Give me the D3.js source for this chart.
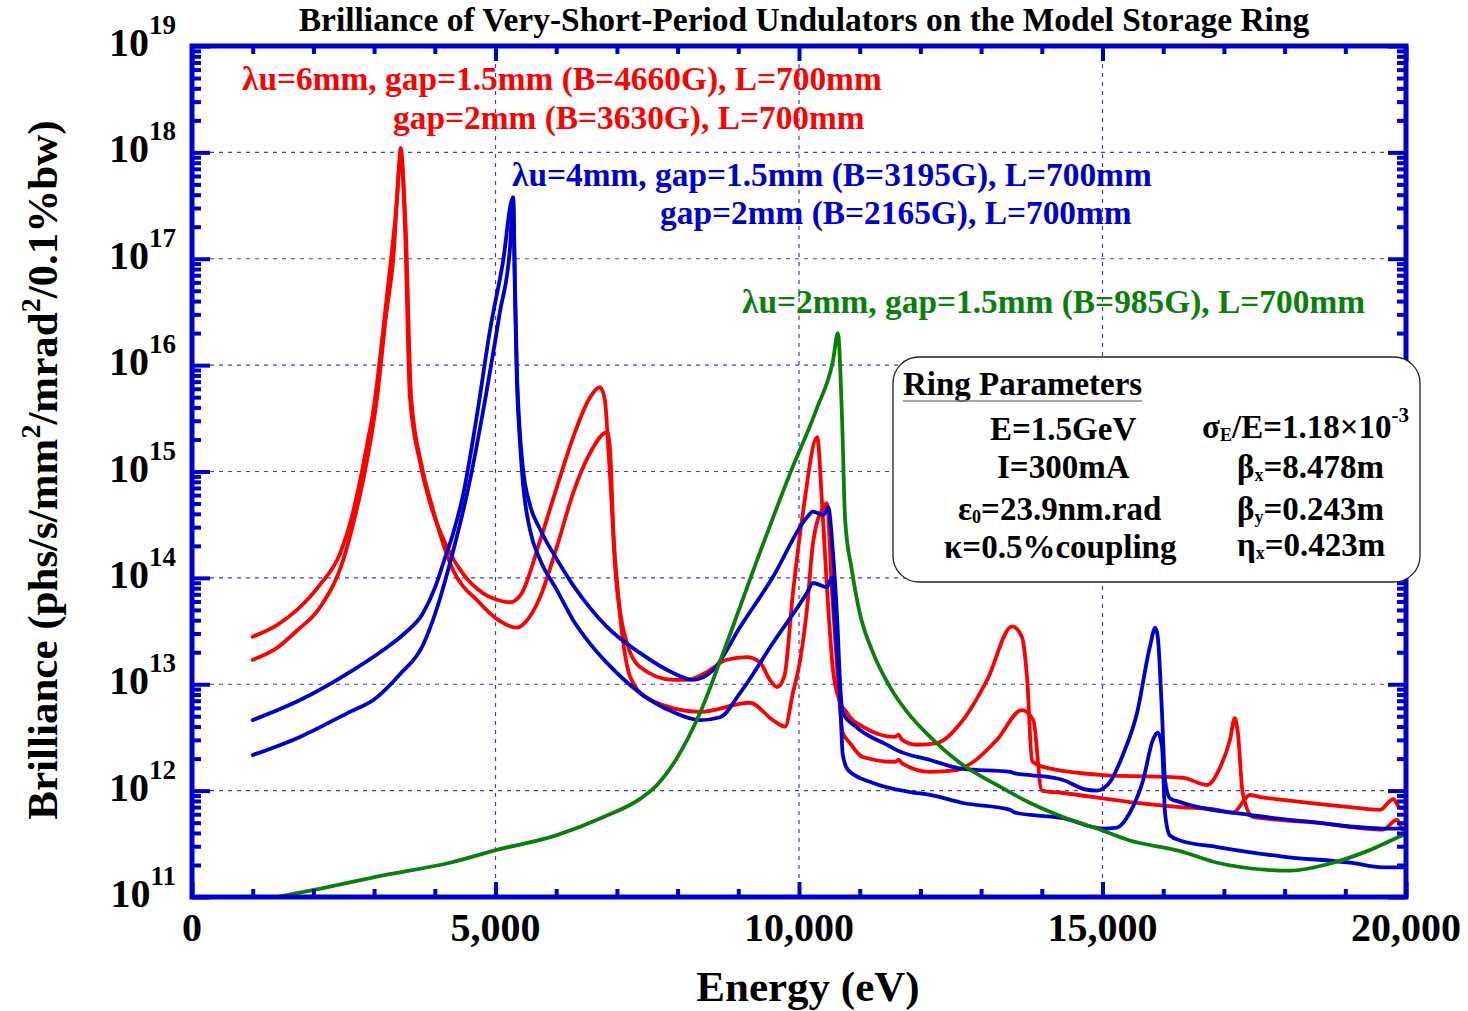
<!DOCTYPE html>
<html><head><meta charset="utf-8">
<script src="https://cdn.jsdelivr.net/npm/d3@7"></script>
<style>
html,body{margin:0;padding:0;background:#fff;}
svg{display:block;font-family:"Liberation Serif","Times New Roman",serif;font-weight:bold;}
</style></head><body>
<svg id="chart" width="1468" height="1011"></svg>
<script>
// ---- data: photon energy (eV) vs brilliance (phs/s/mm^2/mrad^2/0.1%bw) ----
const energyTicks = [0, 5000, 10000, 15000, 20000];
const energyTickLabels = ["0", "5,000", "10,000", "15,000", "20,000"];
const decadeExponents = [11, 12, 13, 14, 15, 16, 17, 18, 19];

// λu=6mm, gap=1.5mm (B=4660G)
const red6mmGap15 = [
  [1000,2.8e13],[1400,3.6e13],[1730,5.0e13],[2100,8.5e13],[2440,1.7e14],[2620,3.5e14],
  [2770,8.3e14],[2900,2.0e15],[2980,3.5e15],[3100,1.2e16],[3210,4.4e16],[3380,3.8e17],
  [3440,1.1e18],[3510,1.9e17],[3590,5.0e15],[3760,1.2e15],[3920,5.1e14],[4200,1.95e14],
  [4460,1.1e14],[4790,7.2e13],[5000,6.3e13],[5240,5.9e13],[5420,7.0e13],[5730,2.2e14],
  [6010,7.1e14],[6280,2.1e15],[6560,5.0e15],[6720,6.2e15],[6800,4.8e15],[6870,1.3e15],
  [6970,1.5e14],[7050,5.0e13],[7170,2.4e13],[7380,1.45e13],[7920,1.1e13],[8150,1.1e13],
  [8480,1.3e13],[8810,1.7e13],[9140,1.8e13],[9360,1.6e13],[9520,1.1e13],[9640,9.4e12],
  [9760,1.2e13],[9900,7.2e13],[10070,4.3e14],[10300,2.1e15],[10380,5.0e14],[10460,8.2e13],
  [10560,1.36e13],[10680,6.7e12],[10790,5.4e12],[10840,4.9e12],[11050,4.0e12],[11580,3.2e12],
  [11640,3.35e12],[11700,3.0e12],[11940,2.7e12],[12270,2.8e12],[12700,4.6e12],[13100,1.1e13],
  [13510,3.5e13],[13670,2.8e13],[13760,1.1e13],[13840,1.9e12],[14020,1.67e12],[15010,1.4e12],
  [16330,1.32e12],[16720,1.13e12],[16940,1.67e12],[17100,3.0e12],[17180,4.8e12],[17230,3.5e12],
  [17310,9.5e11],[17480,5.65e11],[18530,5.0e11],[19620,4.3e11],[19850,5.3e11],[19950,4.3e11],
  [20000,4.3e11]
];
// λu=6mm, gap=2mm (B=3630G)
const red6mmGap2 = [
  [1000,1.7e13],[1400,2.2e13],[1730,3.2e13],[2100,5.2e13],[2490,1.47e14],[2660,3.3e14],
  [2820,8.3e14],[3050,5.0e15],[3200,3.0e16],[3310,9.1e16],[3440,9.0e17],[3520,2.0e17],
  [3610,5.0e15],[3790,1.1e15],[3960,4.6e14],[4250,1.38e14],[4740,5.8e13],[5050,4.0e13],
  [5350,3.4e13],[5550,4.2e13],[5730,6.5e13],[6010,1.95e14],[6280,6.3e14],[6560,1.5e15],
  [6840,2.35e15],[6890,1.5e15],[6950,2.0e14],[7050,4.5e13],[7220,1.17e13],[7550,7.1e12],
  [8370,5.5e12],[9190,6.7e12],[9570,4.6e12],[9770,4.0e12],[9900,8.3e12],[10020,1.7e13],
  [10130,5.0e13],[10230,2.1e14],[10400,4.6e14],[10460,5.0e14],[10540,8.2e13],[10630,1.36e13],
  [10720,3.5e12],[10840,2.8e12],[11050,2.07e12],[11580,1.86e12],[11640,1.95e12],[11700,1.8e12],
  [12160,1.5e12],[12600,1.56e12],[12870,1.86e12],[13260,3.0e12],[13670,5.7e12],[13860,4.6e12],
  [14000,1.0e12],[14350,9.5e11],[15450,7.8e11],[16280,7.0e11],[16890,6.6e11],[17150,6.2e11],
  [17430,9.1e11],[17600,8.7e11],[17970,8.2e11],[19080,7.0e11],[19570,6.6e11],[19790,8.3e11],
  [19900,6.9e11],[20000,6.8e11]
];
// λu=4mm, gap=1.5mm (B=3195G)
const blue4mmGap15 = [
  [1000,4.6e12],[1780,7.1e12],[2600,1.3e13],[3150,2.1e13],[3500,3.0e13],[3800,4.6e13],
  [4000,8.0e13],[4140,1.38e14],[4300,2.6e14],[4460,5.8e14],[4700,3.55e15],[4910,2.14e16],
  [5120,9.1e16],[5290,3.8e17],[5320,6.0e16],[5350,1.0e16],[5400,2.4e15],[5450,1.1e15],
  [5570,4.8e14],[5730,2.9e14],[6010,1.5e14],[6280,8.5e13],[6560,5.2e13],[6840,3.45e13],
  [7380,1.97e13],[7920,1.28e13],[8250,1.1e13],[8580,1.35e13],[9030,3.45e13],[9570,1.02e14],
  [10130,3.7e14],[10230,4.2e14],[10400,3.9e14],[10480,4.6e14],[10560,1.7e14],[10630,4.0e13],
  [10680,9.4e12],[10720,5.4e12],[10960,3.9e12],[11500,2.6e12],[11610,2.4e12],[12160,1.94e12],
  [12700,1.6e12],[13480,1.5e12],[13560,1.45e12],[13810,1.4e12],[14350,1.26e12],[14680,1.04e12],
  [14910,1.0e12],[15120,1.2e12],[15340,2.2e12],[15570,5.4e12],[15780,2.24e13],[15870,3.4e13],
  [15910,2.8e13],[15980,5.4e12],[16030,1.26e12],[16110,8.5e11],[16280,7.8e11],[17430,5.9e11],
  [18530,5.0e11],[19620,4.4e11],[20000,4.4e11]
];
// λu=4mm, gap=2mm (B=2165G)
const blue4mmGap2 = [
  [1000,2.16e12],[1780,3.2e12],[2600,5.5e12],[3000,7.2e12],[3430,1.25e13],[3800,2.3e13],
  [4050,5.5e13],[4250,1.38e14],[4580,8.3e14],[4790,3.55e15],[5070,3.1e16],[5240,1.29e17],
  [5290,3.6e17],[5320,5.0e16],[5350,8.0e15],[5400,2.0e15],[5450,8.0e14],[5570,2.8e14],
  [5730,1.5e14],[6010,7.7e13],[6280,4.0e13],[6560,2.4e13],[6840,1.58e13],[7380,8.3e12],
  [7920,5.5e12],[8370,4.6e12],[8700,4.9e12],[9030,8.3e12],[9570,2.44e13],[10130,7.2e13],
  [10230,8.95e13],[10460,8.2e13],[10540,1.0e14],[10590,4.0e13],[10680,6.7e12],[10720,2.2e12],
  [10810,1.56e12],[11220,1.18e12],[11830,9.7e11],[12160,9.1e11],[12700,7.65e11],[13480,6.6e11],
  [13560,6.2e11],[14350,5.5e11],[15010,4.4e11],[15240,4.5e11],[15450,6.2e11],[15670,1.26e12],
  [15830,3.0e12],[15910,3.5e12],[15980,2.6e12],[16030,6.2e11],[16110,3.8e11],[16280,3.4e11],
  [16890,2.95e11],[17970,2.4e11],[19080,2.1e11],[19620,1.9e11],[20000,1.9e11]
];
// λu=2mm, gap=1.5mm (B=985G)
const green2mmGap15 = [
  [1000,9.0e10],[1400,1.0e11],[1990,1.16e11],[3150,1.6e11],[4250,2.1e11],[5020,2.77e11],
  [6000,3.8e11],[6800,5.7e11],[7400,8.5e11],[7660,1.13e12],[7990,2.03e12],[8370,5.4e12],
  [8750,1.97e13],[9310,1.47e14],[9850,9.5e14],[10300,4.0e15],[10560,1.1e16],[10640,2.0e16],
  [10710,3.05e15],[10760,3.5e14],[10870,1.19e14],[11000,4.7e13],[11220,1.97e13],[11500,9.4e12],
  [11780,5.5e12],[12160,3.2e12],[12700,1.74e12],[13260,1.13e12],[13810,7.65e11],[14350,5.65e11],
  [14910,4.4e11],[15450,3.4e11],[16280,2.7e11],[16890,2.1e11],[17710,1.8e11],[18090,1.77e11],
  [18800,2.1e11],[19360,2.7e11],[19950,3.8e11],[20000,3.9e11]
];

const seriesColors = { red: "#ff0000", blue: "#0000cc", green: "#0a800a" };
const series = [
  { values: red6mmGap15, color: seriesColors.red },
  { values: red6mmGap2, color: seriesColors.red },
  { values: blue4mmGap15, color: seriesColors.blue },
  { values: blue4mmGap2, color: seriesColors.blue },
  { values: green2mmGap15, color: seriesColors.green }
];

// ---- layout ----
const svg = d3.select("#chart");
const plot = { left: 192, right: 1406, top: 46, bottom: 897 };
const frameColor = "#0000cc";

const x = d3.scaleLinear().domain([0, 20000]).range([plot.left, plot.right]);
const y = d3.scaleLog().domain([1e11, 1e19]).range([plot.bottom, plot.top]);

svg.append("defs").append("clipPath").attr("id", "plotClip")
  .append("rect").attr("x", plot.left).attr("y", plot.top)
  .attr("width", plot.right - plot.left).attr("height", plot.bottom - plot.top);

// dashed grid at the labelled values
const grid = svg.append("g").attr("stroke", "#3a3ad8").attr("stroke-width", 1.2)
  .attr("stroke-dasharray", "4,5");
energyTicks.slice(1, -1).forEach(e => {
  grid.append("line").attr("x1", x(e)).attr("x2", x(e)).attr("y1", plot.top).attr("y2", plot.bottom);
});
decadeExponents.slice(1, -1).forEach(p => {
  grid.append("line").attr("x1", plot.left).attr("x2", plot.right).attr("y1", y(Math.pow(10, p))).attr("y2", y(Math.pow(10, p)));
});

// curves
const line = d3.line().x(d => x(d[0])).y(d => y(d[1])).curve(d3.curveMonotoneX);
const curves = svg.append("g").attr("clip-path", "url(#plotClip)");
series.forEach(s => {
  curves.append("path").datum(s.values).attr("d", line)
    .attr("fill", "none").attr("stroke", s.color).attr("stroke-width", 3.8)
    .attr("stroke-linejoin", "round").attr("stroke-linecap", "round");
});

// axes built from d3 axis generators, ticks drawn inward
const minorE = d3.range(0, 20001, 1000);
const minorB = [];
decadeExponents.forEach(p => { for (let k = 1; k <= 9; k++) { const v = k * Math.pow(10, p); if (v <= 1e19) minorB.push(v); } });

function styleAxis(g) {
  g.select(".domain").remove();
  g.selectAll(".tick line").attr("stroke", frameColor).attr("stroke-width", 4);
  g.selectAll(".tick text").remove();
}
const isMajorE = v => v % 5000 === 0;
const isMajorB = v => Math.abs(Math.log10(v) - Math.round(Math.log10(v))) < 1e-9;

const axBottom = svg.append("g").attr("transform", `translate(0,${plot.bottom})`)
  .call(d3.axisBottom(x).tickValues(minorE).tickSize(-8)).call(styleAxis);
axBottom.selectAll(".tick line").attr("y2", d => isMajorE(d) ? -15 : -8);
const axTop = svg.append("g").attr("transform", `translate(0,${plot.top})`)
  .call(d3.axisTop(x).tickValues(minorE).tickSize(-8)).call(styleAxis);
axTop.selectAll(".tick line").attr("y2", d => isMajorE(d) ? 15 : 8);
const axLeft = svg.append("g").attr("transform", `translate(${plot.left},0)`)
  .call(d3.axisLeft(y).tickValues(minorB).tickSize(-9)).call(styleAxis);
axLeft.selectAll(".tick line").attr("x2", d => isMajorB(d) ? 18 : 9);
const axRight = svg.append("g").attr("transform", `translate(${plot.right},0)`)
  .call(d3.axisRight(y).tickValues(minorB).tickSize(-9)).call(styleAxis);
axRight.selectAll(".tick line").attr("x2", d => isMajorB(d) ? -18 : -9);

// frame
svg.append("rect").attr("x", plot.left).attr("y", plot.top)
  .attr("width", plot.right - plot.left).attr("height", plot.bottom - plot.top)
  .attr("fill", "none").attr("stroke", frameColor).attr("stroke-width", 5);

// tick labels
svg.append("g").selectAll("text").data(energyTicks).join("text")
  .attr("x", d => x(d)).attr("y", 941).attr("text-anchor", "middle")
  .attr("font-size", 40).attr("fill", "#000")
  .text((d, i) => energyTickLabels[i]);

const yLab = svg.append("g").selectAll("text").data(decadeExponents).join("text")
  .attr("x", 176).attr("y", d => y(Math.pow(10, d)) + 10)
  .attr("text-anchor", "end").attr("fill", "#000");
yLab.append("tspan").attr("font-size", 40).text("10");
yLab.append("tspan").attr("font-size", 27).attr("dy", -22).text(d => d);

// titles
svg.append("text").attr("x", 804).attr("y", 31).attr("text-anchor", "middle")
  .attr("font-size", 33.5).attr("fill", "#000")
  .text("Brilliance of Very-Short-Period Undulators on the Model Storage Ring");

svg.append("text").attr("x", 808).attr("y", 1001).attr("text-anchor", "middle")
  .attr("font-size", 43).attr("fill", "#000").text("Energy (eV)");

const yt = svg.append("text").attr("transform", "translate(57,470) rotate(-90)")
  .attr("text-anchor", "middle").attr("font-size", 43).attr("fill", "#000");
yt.append("tspan").text("Brilliance (phs/s/mm");
yt.append("tspan").attr("dy", -17).attr("font-size", 28).text("2");
yt.append("tspan").attr("dy", 17).text("/mrad");
yt.append("tspan").attr("dy", -17).attr("font-size", 28).text("2");
yt.append("tspan").attr("dy", 17).text("/0.1%bw)");

// series annotations
const notes = [
  { text: "λu=6mm, gap=1.5mm (B=4660G), L=700mm", x: 242, y: 90, color: seriesColors.red },
  { text: "gap=2mm (B=3630G), L=700mm", x: 393, y: 129, color: seriesColors.red },
  { text: "λu=4mm, gap=1.5mm (B=3195G), L=700mm", x: 512, y: 186, color: seriesColors.blue },
  { text: "gap=2mm (B=2165G), L=700mm", x: 660, y: 224, color: seriesColors.blue },
  { text: "λu=2mm, gap=1.5mm (B=985G), L=700mm", x: 742, y: 313, color: seriesColors.green }
];
svg.append("g").selectAll("text").data(notes).join("text")
  .attr("x", d => d.x).attr("y", d => d.y).attr("font-size", 33.4)
  .attr("fill", d => d.color).text(d => d.text);

// ring parameter box
const box = svg.append("g");
box.append("rect").attr("x", 893).attr("y", 357).attr("width", 527).attr("height", 225)
  .attr("rx", 26).attr("ry", 26).attr("fill", "#fff").attr("stroke", "#222").attr("stroke-width", 1.3);
box.append("text").attr("x", 903).attr("y", 395).attr("font-size", 33).attr("fill", "#000").text("Ring Parameters");
box.append("line").attr("x1", 903).attr("x2", 1142).attr("y1", 401).attr("y2", 401)
  .attr("stroke", "#888").attr("stroke-width", 1.5);

function param(xp, yp, parts) {
  const t = box.append("text").attr("x", xp).attr("y", yp).attr("font-size", 33).attr("fill", "#000");
  let shift = 0;
  parts.forEach(p => {
    const s = t.append("tspan");
    const want = p.sub ? 3 : p.sup ? -16 : 0;
    s.attr("dy", want - shift).attr("font-size", p.sub ? 18 : p.sup ? 21 : 33).text(p.t);
    shift = want;
  });
}
param(990, 440, [{ t: "E=1.5GeV" }]);
param(1202, 438, [{ t: "σ" }, { t: "E", sub: true }, { t: "/E=1.18×10" }, { t: "-3", sup: true }]);
param(997, 478, [{ t: "I=300mA" }]);
param(1237, 478, [{ t: "β" }, { t: "x", sub: true }, { t: "=8.478m" }]);
param(958, 520, [{ t: "ε" }, { t: "0", sub: true }, { t: "=23.9nm.rad" }]);
param(1237, 520, [{ t: "β" }, { t: "y", sub: true }, { t: "=0.243m" }]);
param(944, 558, [{ t: "κ=0.5%coupling" }]);
param(1237, 556, [{ t: "η" }, { t: "x", sub: true }, { t: "=0.423m" }]);
</script>
</body></html>
